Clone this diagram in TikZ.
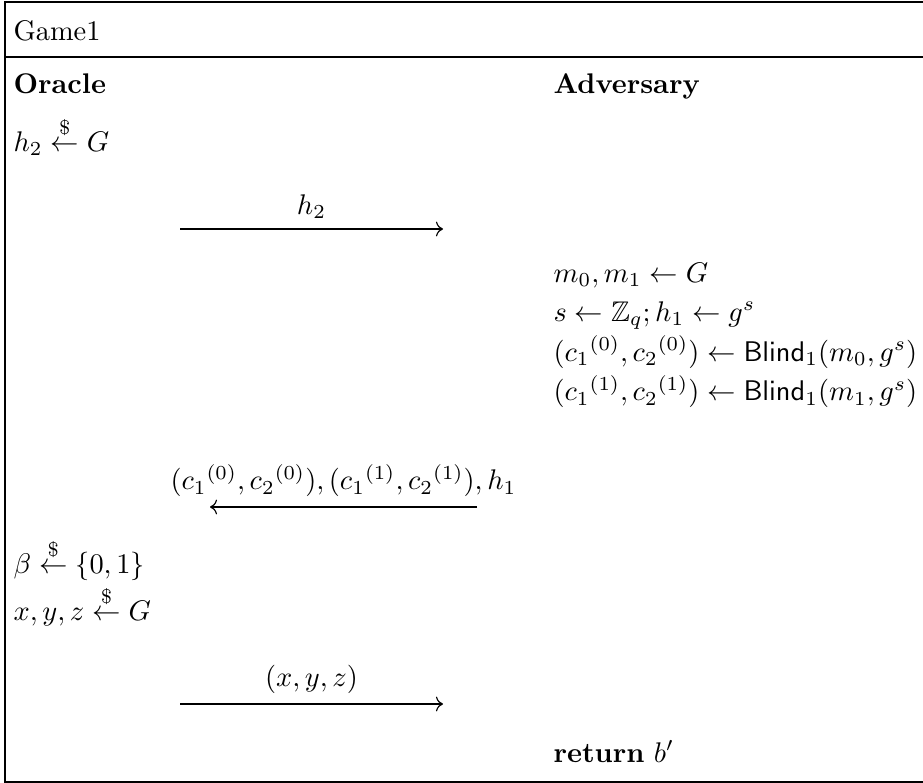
\documentclass[tikz,border=0pt]{standalone}
\usepackage{amsmath,amssymb}
\usepackage{tikz}
\usetikzlibrary{arrows.meta,positioning}

\begin{document}
\begin{tikzpicture}[x=0.352pt, y=-0.352pt,
        txt/.style={anchor=base west, inner sep=0pt},
        msg/.style={-{To}}]
        \useasboundingbox (0,0) rectangle (923,783);
        \draw (935,2) -- (5,2) -- (5,782) -- (935,782);
        \draw (5,57) -- (935,57);

        \node (game) [txt] at (13,41) {Game1};
        \node (oracle) [txt] at (13,94) {\textbf{Oracle}};
        \node (adv) [txt] at (553,94) {\textbf{Adversary}};

        \node (hsamp) [txt] at (13,151) {$h_2 \stackrel{\$}{\leftarrow} G$};

        \node (msamp) [txt] at (553,282) {$m_0, m_1 \leftarrow G$};
        \node (ssamp) [txt] at (553,321) {$s \leftarrow \mathbb{Z}_q; h_1 \leftarrow g^s$};
        \node (blind0) [txt] at (553,361) {$({c_1}^{(0)}, {c_2}^{(0)}) \leftarrow \mathsf{Blind}_1(m_0, g^s)$};
        \node (blind1) [txt] at (553,401) {$({c_1}^{(1)}, {c_2}^{(1)}) \leftarrow \mathsf{Blind}_1(m_1, g^s)$};

        \node (bsamp) [txt] at (13,573) {$\beta \stackrel{\$}{\leftarrow} \{0,1\}$};
        \node (xyzsamp) [txt] at (13,620) {$x, y, z \stackrel{\$}{\leftarrow} G$};

        \node (ret) [txt] at (553,762) {\textbf{return} $b'$};

        \coordinate (send1) at (180,229);
        \coordinate (recv1) at (443,229);
        \coordinate (send2) at (477,507);
        \coordinate (recv2) at (210,507);
        \coordinate (send3) at (180,704);
        \coordinate (recv3) at (443,704);

        \draw[msg] (send1) -- node[above] {$h_2$} (recv1);
        \draw[msg] (send2) -- node[above] {$({c_1}^{(0)}, {c_2}^{(0)}), ({c_1}^{(1)}, {c_2}^{(1)}), h_1$} (recv2);
        \draw[msg] (send3) -- node[above] {$(x, y, z)$} (recv3);
    \end{tikzpicture}
\end{document}
